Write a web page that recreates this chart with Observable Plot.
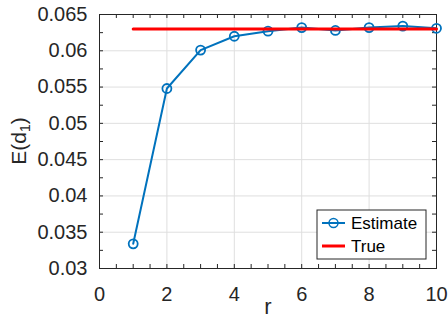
<!DOCTYPE html>
<html>
<head>
<meta charset="utf-8">
<script src="https://cdn.jsdelivr.net/npm/d3@7"></script>
<script src="https://cdn.jsdelivr.net/npm/@observablehq/plot@0.6"></script>
<style>
  html, body { margin: 0; padding: 0; background: #fff; }
  #chart { position: relative; width: 448px; height: 325px; }
</style>
</head>
<body>
<div id="chart"></div>
<script>
const rValues = [1, 2, 3, 4, 5, 6, 7, 8, 9, 10];
const estimate = [0.0334, 0.0548, 0.0601, 0.0620, 0.0627, 0.0632, 0.0628, 0.0632, 0.0634, 0.0631];
const trueValue = 0.0630;
const trueRange = [1, 10];
const xTicks = [0, 2, 4, 6, 8, 10];
const yTicks = [0.03, 0.035, 0.04, 0.045, 0.05, 0.055, 0.06, 0.065];
const xLabel = "r";
const yLabelMain = "E(d";
const yLabelSub = "1";
const yLabelEnd = ")";
const legendLabels = ["Estimate", "True"];

const xDomain = [0, 10];
const yDomain = [0.03, 0.065];
const xMinor = d3.range(0, 10.001, 0.5);
const yMinor = d3.range(0.03, 0.06501, 0.0025);

const blue = "#0072BD";
const red = "#FF0000";
const axisColor = "#262626";
const FONT = "'Liberation Sans', Arial, sans-serif";

const estData = rValues.map((r, i) => ({r, v: estimate[i]}));
const trueData = trueRange.map(r => ({r, v: trueValue}));

const W = 448, H = 325;
const mL = 99, mR = 12, mT = 14, mB = 57;
const tickLenPx = 4;
const dxTick = (xDomain[1] - xDomain[0]) * tickLenPx / (W - mL - mR);
const dyTick = (yDomain[1] - yDomain[0]) * tickLenPx / (H - mT - mB);

const fmtY = d => String(+d.toFixed(3));

const plot = Plot.plot({
  width: W, height: H,
  marginLeft: mL, marginRight: mR, marginTop: mT, marginBottom: mB,
  style: {fontFamily: FONT, color: axisColor, background: "#fff"},
  x: {domain: xDomain},
  y: {domain: yDomain},
  marks: [
    Plot.gridX(xTicks, {stroke: "#dfdfdf", strokeOpacity: 1, strokeWidth: 1}),
    Plot.gridY(yTicks, {stroke: "#dfdfdf", strokeOpacity: 1, strokeWidth: 1}),
    Plot.axisX({ticks: xTicks, tickSize: 0, tickPadding: 18, fontSize: 20, tickFormat: d => String(d), label: null, fill: axisColor}),
    Plot.axisY({ticks: yTicks, tickSize: 0, tickPadding: 12, fontSize: 20, tickFormat: fmtY, label: null, fill: axisColor}),
    Plot.ruleX(xMinor, {x: d => d, y1: yDomain[0], y2: yDomain[0] + dyTick, stroke: axisColor, strokeWidth: 1}),
    Plot.ruleX(xMinor, {x: d => d, y1: yDomain[1], y2: yDomain[1] - dyTick, stroke: axisColor, strokeWidth: 1}),
    Plot.ruleY(yMinor, {y: d => d, x1: xDomain[0], x2: xDomain[0] + dxTick, stroke: axisColor, strokeWidth: 1}),
    Plot.ruleY(yMinor, {y: d => d, x1: xDomain[1], x2: xDomain[1] - dxTick, stroke: axisColor, strokeWidth: 1}),
    Plot.frame({stroke: axisColor, strokeWidth: 1}),
    Plot.line(estData, {x: "r", y: "v", stroke: blue, strokeWidth: 2}),
    Plot.dot(estData, {x: "r", y: "v", r: 4.5, stroke: blue, strokeWidth: 1.8, fill: "none"}),
    Plot.line(trueData, {x: "r", y: "v", stroke: red, strokeWidth: 3}),
    Plot.text([xLabel], {frameAnchor: "bottom", dy: 45, fontSize: 22, fill: axisColor})
  ]
});

document.getElementById("chart").appendChild(plot);

const svg = d3.select(plot);
const yl = svg.append("text")
  .attr("transform", `translate(26,${(mT + H - mB) / 2}) rotate(-90)`)
  .attr("text-anchor", "middle")
  .attr("font-size", 21)
  .attr("fill", axisColor)
  .attr("font-family", FONT);
yl.append("tspan").text(yLabelMain);
yl.append("tspan").attr("font-size", 14).attr("dy", 4).text(yLabelSub);
yl.append("tspan").attr("dy", -4).text(yLabelEnd);

const lx = 317, ly = 210, lw = 109, lh = 49;
const lg = svg.append("g").attr("font-family", FONT);
lg.append("rect").attr("x", lx).attr("y", ly).attr("width", lw).attr("height", lh)
  .attr("fill", "#fff").attr("stroke", axisColor).attr("stroke-width", 1);
const rows = [
  {label: legendLabels[0], color: blue, width: 2, marker: true, y: 223},
  {label: legendLabels[1], color: red, width: 3, marker: false, y: 246}
];
rows.forEach(rw => {
  lg.append("line").attr("x1", 322).attr("x2", 345).attr("y1", rw.y).attr("y2", rw.y)
    .attr("stroke", rw.color).attr("stroke-width", rw.width);
  if (rw.marker) {
    lg.append("circle").attr("cx", 333.5).attr("cy", rw.y).attr("r", 4.5)
      .attr("fill", "none").attr("stroke", rw.color).attr("stroke-width", 1.5);
  }
  lg.append("text").attr("x", 351).attr("y", rw.y).attr("dy", "0.35em")
    .attr("text-anchor", "start")
    .attr("font-size", 17).attr("fill", "#000").text(rw.label);
});
</script>
</body>
</html>
